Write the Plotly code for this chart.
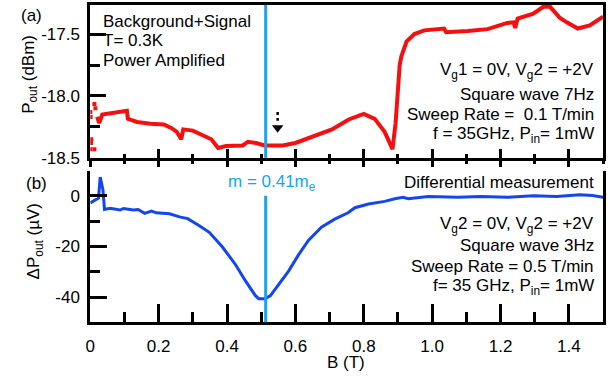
import plotly.graph_objects as go

# ---------------- data ----------------
# (a) Background + Signal, red trace
b_red = [0.020, 0.026, 0.035, 0.060, 0.090, 0.107, 0.110, 0.137, 0.176, 0.215, 0.238, 0.253,
         0.266, 0.272, 0.300, 0.330, 0.354, 0.374, 0.397, 0.446, 0.461, 0.485, 0.510, 0.562,
         0.600, 0.707, 0.756, 0.800, 0.832, 0.861, 0.884, 0.893, 0.899, 0.905, 0.910, 0.925,
         0.948, 0.977, 1.035, 1.041, 1.104, 1.162, 1.220, 1.238, 1.243, 1.250, 1.296, 1.316,
         1.325, 1.345, 1.374, 1.394, 1.426, 1.461, 1.493, 1.500]
p_red = [-18.17, -18.22, -18.15, -18.14, -18.13, -18.12, -18.185, -18.21, -18.225, -18.23, -18.26, -18.29,
         -18.35, -18.27, -18.28, -18.32, -18.35, -18.42, -18.405, -18.40, -18.37, -18.38, -18.40, -18.40,
         -18.38, -18.27, -18.19, -18.145, -18.185, -18.29, -18.43, -18.22, -18.01, -17.75, -17.68, -17.56,
         -17.50, -17.47, -17.455, -17.485, -17.475, -17.46, -17.41, -17.405, -17.45, -17.375, -17.335, -17.30,
         -17.28, -17.28, -17.37, -17.405, -17.455, -17.43, -17.38, -17.36]
# scattered points at the very start of the sweep
b_red_start = [0.000, 0.002, 0.003, 0.012, 0.000, 0.001, 0.012, 0.015]
p_red_start = [-18.43, -18.38, -18.35, -18.43, -18.13, -18.17, -18.065, -18.10]

# (b) Differential measurement, blue trace
b_blue = [0.000, 0.0145, 0.024, 0.029, 0.037, 0.0415, 0.058, 0.087, 0.097, 0.126, 0.140, 0.159,
          0.179, 0.193, 0.232, 0.261, 0.285, 0.319, 0.348, 0.386, 0.425, 0.454, 0.483, 0.493,
          0.512, 0.527, 0.551, 0.580, 0.609, 0.638, 0.676, 0.715, 0.754, 0.774, 0.814, 0.861,
          0.891, 0.915, 0.930, 0.988, 1.075, 1.142, 1.220, 1.296, 1.364, 1.432, 1.469, 1.500]
dp_blue = [-2.8, -1.8, -0.9, 7.4, 2.3, -5.4, -4.9, -5.6, -5.0, -5.6, -5.4, -6.9,
           -6.0, -6.7, -7.1, -8.3, -9.0, -11.8, -14.4, -20.1, -27.2, -33.6, -39.4, -40.6,
           -40.6, -39.4, -34.9, -29.7, -23.3, -17.6, -12.4, -9.2, -6.7, -4.7, -3.2, -2.2,
           -1.15, -0.6, -1.15, -0.3, -0.6, -0.3, -0.6, 0.0, -0.3, 0.4, 0.1, -0.6]

b_resonance = 0.513           # m = 0.41 m_e at 35 GHz
b_arrow = 0.548
p_arrow_tip = -18.256
p_arrow_dots = [-18.13, -18.20]

x_tickvals = [0, 0.2, 0.4, 0.6, 0.8, 1.0, 1.2, 1.4]
x_ticktext = ["0", "0.2", "0.4", "0.6", "0.8", "1.0", "1.2", "1.4"]
ya_tickvals = [-18.5, -18.0, -17.5]
ya_ticktext = ["-18.5", "-18.0", "-17.5"]
yb_tickvals = [-40, -20, 0]
yb_ticktext = ["-40", "-20", "0"]

# ---------------- styling ----------------
W, H = 613, 389
FONT = "Liberation Sans, Arial, Helvetica, sans-serif"
FS = 17
RED = "#f41010"
BLUE = "#1446ee"
CYAN = "#12a6ee"

def px(x):
    return x / W

def py(y):
    return 1 - y / H

XDOM = [px(86), px(603)]
YA_DOM = [py(162), py(5)]
YB_DOM = [py(331), py(175)]

fig = go.Figure()

fig.add_trace(go.Scatter(x=b_red, y=p_red, mode="lines", xaxis="x", yaxis="y",
                         line=dict(color=RED, width=4), showlegend=False, hoverinfo="skip"))
fig.add_trace(go.Scatter(x=b_red_start, y=p_red_start, mode="markers", xaxis="x", yaxis="y",
                         marker=dict(color=RED, size=4, symbol="square"), showlegend=False, hoverinfo="skip"))
fig.add_trace(go.Scatter(x=b_blue, y=dp_blue, mode="lines", xaxis="x2", yaxis="y2",
                         line=dict(color=BLUE, width=3), showlegend=False, hoverinfo="skip"))
# arrow head
fig.add_trace(go.Scatter(x=[b_arrow], y=[p_arrow_tip], mode="markers", xaxis="x", yaxis="y",
                         marker=dict(color="black", size=10, symbol="triangle-down"),
                         showlegend=False, hoverinfo="skip"))
# dummy trace for the outside-tick overlay axis
fig.add_trace(go.Scatter(x=[None], y=[None], xaxis="x3", yaxis="y", showlegend=False, hoverinfo="skip"))

# vertical resonance lines
fig.add_shape(type="line", xref="x", yref="y domain", x0=b_resonance, x1=b_resonance, y0=0, y1=1,
              line=dict(color=CYAN, width=3))
fig.add_shape(type="line", xref="x2", yref="y2", x0=b_resonance, x1=b_resonance, y0=-50, y1=0,
              line=dict(color=CYAN, width=3))
# dotted arrow shaft
fig.add_shape(type="line", xref="x", yref="y", x0=b_arrow, x1=b_arrow,
              y0=p_arrow_dots[0], y1=p_arrow_dots[1], line=dict(color="black", width=2.5, dash="dot"))

axis_common = dict(showline=True, linecolor="black", linewidth=3, showgrid=False, zeroline=False,
                   tickcolor="black", tickwidth=3,
                   tickfont=dict(family=FONT, size=FS, color="black"))

fig.update_layout(
    width=W, height=H,
    margin=dict(l=0, r=0, t=0, b=0),
    paper_bgcolor="white", plot_bgcolor="white",
    font=dict(family=FONT, size=FS, color="black"),
    xaxis=dict(domain=XDOM, range=[0, 1.5], anchor="y", mirror=True, ticks="inside", ticklen=9,
               tickvals=x_tickvals, showticklabels=False,
               minor=dict(ticks="inside", ticklen=4, dtick=0.1, tick0=0, tickwidth=3, tickcolor="black"),
               **axis_common),
    xaxis3=dict(range=[0, 1.5], anchor="y", overlaying="x", side="bottom", showline=False,
                showgrid=False, zeroline=False, ticks="outside", ticklen=8, tickwidth=3, tickcolor="black",
                tickvals=x_tickvals, showticklabels=False,
                minor=dict(ticks="outside", ticklen=5, dtick=0.1, tick0=0, tickwidth=3, tickcolor="black")),
    yaxis=dict(domain=YA_DOM, range=[-18.5, -17.264], anchor="x", mirror=True, ticks="inside",
               ticklen=16, tickvals=ya_tickvals, ticktext=ya_ticktext, ticklabelstandoff=4,
               minor=dict(ticks="inside", ticklen=10, tickvals=[-18.25, -17.75], tickwidth=3, tickcolor="black"),
               **axis_common),
    xaxis2=dict(domain=XDOM, range=[0, 1.5], anchor="y2", mirror=False, ticks="inside", ticklen=18,
                tickvals=x_tickvals, ticktext=x_ticktext, ticklabelstandoff=6,
                minor=dict(ticks="inside", ticklen=10, dtick=0.1, tick0=0, tickwidth=3, tickcolor="black"),
                **axis_common),
    yaxis2=dict(domain=YB_DOM, range=[-50, 10], anchor="x2", mirror=True, ticks="inside",
                ticklen=17, tickvals=yb_tickvals, ticktext=yb_ticktext, ticklabelstandoff=4,
                minor=dict(ticks="inside", ticklen=10, tickvals=[-50, -30, -10, 10], tickwidth=3, tickcolor="black"),
                **axis_common),
)

def note(text, x, y, xanchor="left", color="black", angle=0, size=FS):
    fig.add_annotation(text=text, xref="paper", yref="paper", x=px(x), y=py(y),
                       xanchor=xanchor, yanchor="middle", showarrow=False, textangle=angle,
                       font=dict(family=FONT, size=size, color=color))

# panel labels
note("(a)", 27, 16, xanchor="center")
note("(b)", 32, 188, xanchor="center")
# axis titles
note("P<sub>out</sub> (dBm)", 25, 76, xanchor="center", angle=-90)
note("ΔP<sub>out</sub> (µV)", 30, 248, xanchor="center", angle=-90)
note("B (T)", 344, 372, xanchor="center")

# top-left text
note("Background+Signal", 97, 22)
note("T= 0.3K", 97, 42)
note("Power Amplified", 97, 62)

# top-right text
note("V<sub>g</sub>1 = 0V, V<sub>g</sub>2 = +2V", 596, 73, xanchor="right")
note("Square wave 7Hz", 596, 97, xanchor="right")
note("Sweep Rate =  0.1 T/min", 596, 118, xanchor="right")
note("f = 35GHz, P<sub>in</sub>= 1mW", 596, 139, xanchor="right")

# bottom panel text
note("m = 0.41m<sub>e</sub>", 269, 188, xanchor="center", color=CYAN)
note("Differential measurement", 596, 187, xanchor="right")
note("V<sub>g</sub>2 = 0V, V<sub>g</sub>2 = +2V", 596, 231, xanchor="right")
note("Square wave 3Hz", 596, 252, xanchor="right")
note("Sweep Rate = 0.5 T/min", 596, 274, xanchor="right")
note("f= 35 GHz, P<sub>in</sub>= 1mW", 596, 295, xanchor="right")

fig.write_html("out.html")
